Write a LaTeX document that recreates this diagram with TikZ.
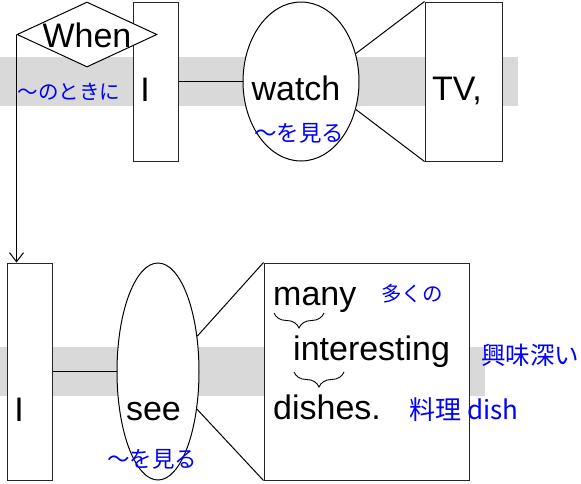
\documentclass[tikz,border=0pt]{standalone}
\usepackage{fontspec}
\setmainfont{Liberation Sans}
\newfontfamily\jp{Noto Sans CJK JP}
\usetikzlibrary{shapes.geometric,arrows.meta,decorations.pathreplacing}
\definecolor{bandgray}{RGB}{217,217,217}
\definecolor{jblue}{RGB}{0,0,255}
\begin{document}
\begin{tikzpicture}[x=1pt,y=-1pt,
  wordbox/.style={draw=black!85, line width=1pt, fill=white, rectangle, inner sep=0pt},
  oval/.style={draw, line width=1pt, fill=white, ellipse, inner sep=0pt},
  en/.style={font=\fontsize{34}{40}\selectfont, inner sep=0pt, anchor=base},
  ja/.style={font=\jp\fontsize{#1}{#1}\selectfont, text=jblue, inner sep=0pt},
  conn/.style={line width=1pt},
  bracepath/.style={line width=0.9pt, decorate, decoration={brace, amplitude=15pt}}]
\useasboundingbox (0,0) rectangle (581,483);
% bands
\fill[bandgray] (0,57) rectangle (518,106);
\fill[bandgray] (0,347) rectangle (485,396);
% top clause
\node[wordbox, minimum width=45pt, minimum height=159pt] (Itop) at (155.5,81.5) {};
\node[oval, minimum width=116pt, minimum height=159pt] (watch) at (301,81.5) {};
\node[wordbox, minimum width=77pt, minimum height=159pt] (tv) at (463.5,81.5) {};
\node[diamond, draw, fill=white, line width=1pt, inner sep=0pt, minimum width=140pt, minimum height=65pt] (whenD) at (87,34.5) {};
% bottom clause
\node[wordbox, minimum width=45pt, minimum height=217pt] (Ibot) at (29.5,371.5) {};
\node[oval, minimum width=82pt, minimum height=217pt] (see) at (158,371.5) {};
\node[wordbox, minimum width=205pt, minimum height=217pt] (obj) at (366.5,371.5) {};
% connectors
\draw[conn] (Itop.east) -- (watch.west);
\draw[conn] (watch.27) -- (tv.north west);
\draw[conn] (watch.-27) -- (tv.south west);
\draw[conn] (Ibot.east) -- (see.west);
\draw[conn] (see.42) -- (obj.north west);
\draw[conn] (see.-44) -- (obj.south west);
\draw[conn, -{Straight Barb[length=9pt,width=14pt]}] (whenD.west) -- (whenD.west |- Ibot.north);
% texts
\node[en] (tWhen) at (87,47) {When};
\node[en] (tI1) at (145,101) {I};
\node[en] (tWatch) at (296,100) {watch};
\node[en] (tTV) at (457,100) {TV,};
\node[ja=20.5] (jToki) at (69,92) {～のときに};
\node[ja=22.5] (jMiru1) at (299,133) {～を見る};
\node[en] (tI2) at (19,421) {I};
\node[en] (tSee) at (153.5,420) {see};
\node[ja=22.5] (jMiru2) at (152,459) {～を見る};
\node[en, anchor=base west] (tMany) at (273,305) {many};
\node[ja=20.5, anchor=west] (jOoku) at (381,294) {多くの};
\node[en, anchor=base west] (tInt) at (293,360) {interesting};
\node[ja=24.5, anchor=west] (jKyomi) at (481,355) {興味深い};
\node[en, anchor=base west] (tDish) at (273,419) {dishes.};
\node[ja=26, anchor=base west] (jRyori) at (409,419) {料理 dish};
% braces
\coordinate (b1l) at (274,313);
\coordinate (b1r) at (324,313);
\coordinate (b2l) at (294,372);
\coordinate (b2r) at (344,372);
\draw[bracepath] (b1r) -- (b1l);
\draw[bracepath] (b2r) -- (b2l);
\end{tikzpicture}
\end{document}
